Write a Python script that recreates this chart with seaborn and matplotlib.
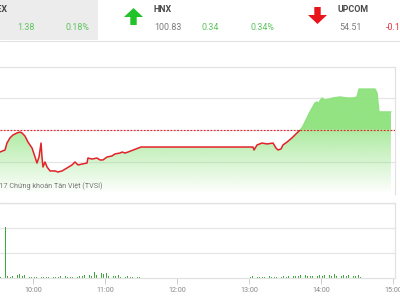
import numpy as np
import pandas as pd
import matplotlib
matplotlib.use("Agg")
import matplotlib.pyplot as plt
from matplotlib.patches import Rectangle, Polygon
import seaborn as sns

# ---------------- data ----------------
# price line: minutes after 09:00 and index value
price_min = [32.5, 36.7, 38.3, 40.8, 43.3, 46.7, 49.2, 50.8, 53.3, 55.8, 59.2, 61.7, 63.3, 65, 66.7,
             67.5, 68.3, 70, 71.7, 74.2, 78.3, 80.8, 84.2, 88.3, 92.5, 95, 97.5, 100.8, 105, 105.8,
             109.2, 113.3, 115.8, 118.3, 121.7, 125.8, 128.3, 132.5, 134.2, 136.7, 139.2, 150,
             243.3, 244.2, 246.7, 250.8, 255, 260, 262.5, 264.2, 266.7, 268.3, 271.7, 275.8, 280,
             284.2, 286.7, 290.8, 295, 296.7, 297.5, 300.8, 303.3, 310, 315.8, 321.7, 326.7, 330,
             331.7, 345, 346.7, 348.3, 358.3]
price_val = [765.78, 765.94, 766.48, 766.88, 767.11, 767.27, 767.34, 767.27, 767.03, 766.56, 766.09,
             765.39, 764.92, 765.39, 766.48, 765.39, 764.61, 765.0, 764.61, 764.30, 764.30, 764.22,
             764.30, 764.53, 764.77, 765.0, 764.77, 764.84, 764.92, 765.31, 765.23, 765.31, 765.16,
             765.16, 765.39, 765.47, 765.63, 765.70, 765.78, 765.70, 765.78, 766.17,
             766.17, 765.94, 766.33, 766.48, 766.41, 766.48, 766.09, 765.94, 766.02, 766.33, 766.56,
             766.88, 767.27, 767.66, 768.13, 768.91, 769.61, 769.69, 769.53, 770.0, 769.84, 770.0,
             770.08, 770.0, 770.0, 770.08, 770.70, 770.70, 770.39, 768.91, 768.91]
reference = 767.53

# volume bars: minutes after 09:00 and volume (arbitrary units)
vol_am_min = list(range(33, 150, 2))
vol_am = [0.06, 0.05, 2.04, 0.08, 0.06, 0.10, 0.07, 0.12, 0.15, 0.08,
          0.12, 0.06, 0.05, 0.04, 0.06, 0.04, 0.03, 0.05, 0.04, 0.06,
          0.03, 0.08, 0.04, 0.05, 0.03, 0.07, 0.04, 0.09, 0.05, 0.04,
          0.06, 0.08, 0.05, 0.10, 0.07, 0.12, 0.09, 0.14, 0.10, 0.26,
          0.12, 0.18, 0.22, 0.15, 0.20, 0.10, 0.14, 0.08, 0.10, 0.12,
          0.06, 0.09, 0.05, 0.07, 0.05, 0.06, 0.04, 0.05, 0.04]
vol_pm_min = list(range(241, 334, 2)) + [348.3, 352.5]
vol_pm = [0.05, 0.07, 0.04, 0.06, 0.05, 0.04, 0.06, 0.05, 0.07, 0.04,
          0.06, 0.05, 0.08, 0.06, 0.09, 0.05, 0.07, 0.06, 0.08, 0.10,
          0.07, 0.12, 0.08, 0.14, 0.09, 0.10, 0.08, 0.12, 0.09, 0.11,
          0.10, 0.13, 0.08, 0.12, 0.10, 0.15, 0.09, 0.13, 0.10, 0.12,
          0.08, 0.11, 0.07, 0.10, 0.08, 0.12, 0.06, 0.88, 0.06]

tick_min = [60, 120, 180, 240, 300, 360]
tick_lbl = ["10:00", "11:00", "12:00", "13:00", "14:00", "15:00"]

# header
hdr_left = ("VNINDEX", "1.38", "0.18%")
hdr_hnx = ("HNX", "100.83", "0.34", "0.34%")
hdr_upcom = ("UPCOM", "54.51", "-0.10")

# ---------------- style ----------------
sns.set_theme(style="white")
plt.rcParams["font.family"] = ["Roboto", "DejaVu Sans"]

W, H = 400, 300
fig = plt.figure(figsize=(4, 3), dpi=100)
fig.patch.set_facecolor("white")

def fx(px):
    return px / W

def fy(py):
    return 1 - py / H

GREEN_TXT = "#5ec45e"
GRAY_TXT = "#7a7a7a"
DARK_TXT = "#4a4a4a"
RED_TXT = "#e8323a"
GRID = "#e6e6e6"

# header background
fig.patches.append(Rectangle((0, fy(40)), fx(98), 40 / H, transform=fig.transFigure,
                             facecolor="#ececec", edgecolor="none", zorder=0))
fig.add_artist(plt.Line2D([0, 1], [fy(40.5), fy(40.5)], transform=fig.transFigure,
                          color="#e2e2e2", lw=0.8))

fs_head = 6.4
fig.text(fx(8), fy(10), hdr_left[0], ha="right", va="center", fontsize=fs_head,
         fontweight="bold", color=DARK_TXT)
fig.text(fx(26), fy(27.5), hdr_left[1], ha="center", va="center", fontsize=fs_head, color=GREEN_TXT)
fig.text(fx(77), fy(27.5), hdr_left[2], ha="center", va="center", fontsize=fs_head, color=GREEN_TXT)

fig.text(fx(154), fy(10), hdr_hnx[0], ha="left", va="center", fontsize=fs_head,
         fontweight="bold", color=DARK_TXT)
fig.text(fx(168), fy(27.5), hdr_hnx[1], ha="center", va="center", fontsize=fs_head, color=GRAY_TXT)
fig.text(fx(210), fy(27.5), hdr_hnx[2], ha="center", va="center", fontsize=fs_head, color=GREEN_TXT)
fig.text(fx(262), fy(27.5), hdr_hnx[3], ha="center", va="center", fontsize=fs_head, color=GREEN_TXT)

fig.text(fx(338), fy(10), hdr_upcom[0], ha="left", va="center", fontsize=fs_head,
         fontweight="bold", color=DARK_TXT)
fig.text(fx(350), fy(27.5), hdr_upcom[1], ha="center", va="center", fontsize=fs_head, color=GRAY_TXT)
fig.text(fx(386), fy(27.5), hdr_upcom[2], ha="left", va="center", fontsize=fs_head, color=RED_TXT)

# arrows (pixel shapes)
def arrow(cx, top, bottom, up, color):
    hw, sw, hl = 9.5, 3.2, 9
    if up:
        pts = [(cx, top), (cx + hw, top + hl), (cx + sw, top + hl), (cx + sw, bottom),
               (cx - sw, bottom), (cx - sw, top + hl), (cx - hw, top + hl)]
    else:
        pts = [(cx, bottom), (cx + hw, bottom - hl), (cx + sw, bottom - hl), (cx + sw, top),
               (cx - sw, top), (cx - sw, bottom - hl), (cx - hw, bottom - hl)]
    fig.patches.append(Polygon([(fx(a), fy(b)) for a, b in pts], closed=True,
                               transform=fig.transFigure, facecolor=color, edgecolor="none"))

arrow(133.5, 8, 25, True, "#22c22a")
arrow(317.5, 7, 24, False, "#e8141c")

# ---------------- main price chart ----------------
XL = (32.5, 32.5 + 395 / 1.2)
ax = fig.add_axes([0, fy(194), fx(395), (194 - 67) / H])
ax.set_xlim(*XL)
ax.set_ylim(762.5, 772.42)
ax.set_yticks([765, 767.5, 770])
ax.set_xticks([])
ax.tick_params(left=False, labelleft=False)
ax.grid(axis="y", color=GRID, lw=0.9)
for s in ["left", "bottom"]:
    ax.spines[s].set_visible(False)
for s in ["top", "right"]:
    ax.spines[s].set_color("#e2e2e2")
    ax.spines[s].set_linewidth(0.9)

df = pd.DataFrame({"t": price_min, "v": price_val})

# gradient fill under the line
fill = ax.fill_between(df["t"], df["v"], 762.5, facecolor="none", edgecolor="none")
ny = 256
yy = np.linspace(1, 0, ny)  # top -> bottom
ylo, yhi = 762.5, 772.42
vals = ylo + yy * (yhi - ylo)
alpha = np.where(vals >= reference, 0.95,
                 0.72 * (vals - ylo) / (reference - ylo))
img = np.zeros((ny, 2, 4))
img[..., 0] = 0x8d / 255
img[..., 1] = 0xe2 / 255
img[..., 2] = 0x7c / 255
img[..., 3] = alpha[:, None]
im = ax.imshow(img, extent=[XL[0], XL[1], ylo, yhi], aspect="auto", origin="upper",
               interpolation="bilinear", zorder=1)
path = fill.get_paths()[0]
im.set_clip_path(path, transform=ax.transData)

# line: red below reference, green above
n0 = len(ax.lines)
sns.lineplot(data=df, x="t", y="v", ax=ax, color="#e3222a", lw=1.1, zorder=3)
red_line = ax.lines[n0]
red_line.set_clip_path(Rectangle((XL[0], 700), XL[1] - XL[0], reference - 700,
                                 transform=ax.transData))
sns.lineplot(data=df, x="t", y="v", ax=ax, color="#8fe27f", lw=1.0, zorder=3)
green_line = ax.lines[n0 + 1]
green_line.set_clip_path(Rectangle((XL[0], reference), XL[1] - XL[0], 100,
                                   transform=ax.transData))

ax.axhline(reference, color="#e3222a", lw=0.8, ls=(0, (1.6, 1.4)), zorder=4)
ax.set_xlabel("")
ax.set_ylabel("")

fig.text(fx(103), fy(186), "© 2017 Chứng khoán Tân Việt (TVSI)", ha="right", va="center",
         fontsize=5.2, color="#777777")

# ---------------- volume chart ----------------
axv = fig.add_axes([0, fy(278), fx(395), (278 - 203) / H])
axv.set_xlim(*XL)
axv.set_ylim(0, 3)
axv.set_yticks([1, 2, 3])
axv.tick_params(left=False, labelleft=False)
axv.grid(axis="y", color=GRID, lw=0.9)
axv.bar(vol_am_min, vol_am, width=0.7, color="#3da83d", linewidth=0)
axv.bar(vol_pm_min, vol_pm, width=0.7, color="#3da83d", linewidth=0)
axv.set_xticks(tick_min)
axv.set_xticklabels(tick_lbl)
axv.tick_params(axis="x", bottom=True, length=4, width=0.7, color="#cccccc",
                labelsize=5.2, labelcolor="#888888", pad=2.5)
axv.spines["left"].set_visible(False)
for s in ["top", "right", "bottom"]:
    axv.spines[s].set_color("#e2e2e2")
    axv.spines[s].set_linewidth(0.9)

fig.savefig("out.png", dpi=100, facecolor="white")
